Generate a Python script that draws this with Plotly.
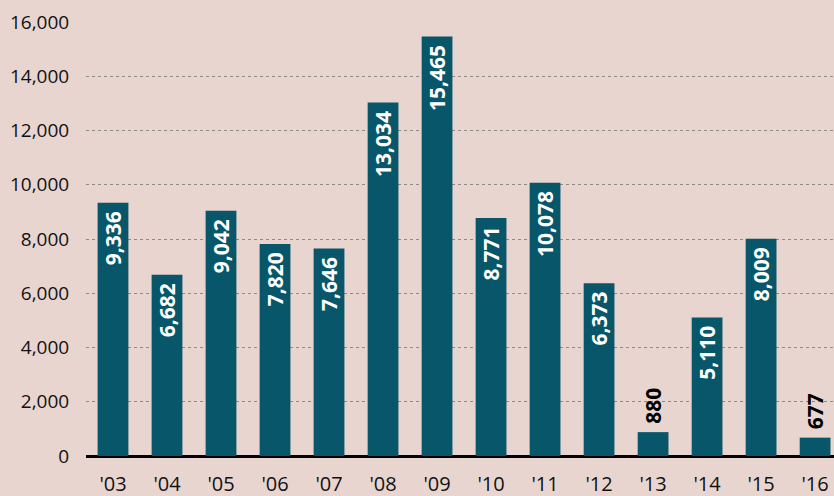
import plotly.graph_objects as go

years = ["'03", "'04", "'05", "'06", "'07", "'08", "'09", "'10", "'11", "'12", "'13", "'14", "'15", "'16"]
values = [9336, 6682, 9042, 7820, 7646, 13034, 15465, 8771, 10078, 6373, 880, 5110, 8009, 677]
y_ticks = [0, 2000, 4000, 6000, 8000, 10000, 12000, 14000, 16000]
y_tick_labels = ["0", "2,000", "4,000", "6,000", "8,000", "10,000", "12,000", "14,000", "16,000"]

BG = "#e8d5cf"
BAR = "#08566a"
FONT = "Open Sans"
NB = "\u00a0"

positions = ["outside" if v < 2000 else "inside" for v in values]
labels = [(NB + f"{v:,}") if p == "outside" else (f"{v:,}" + NB) for v, p in zip(values, positions)]

fig = go.Figure()
fig.add_trace(go.Bar(
    x=years, y=values, width=0.57,
    marker=dict(color=BAR, line=dict(width=0)),
    text=labels, textposition=positions, textangle=-90,
    insidetextanchor="end", constraintext="none", cliponaxis=False,
    insidetextfont=dict(family=FONT, size=21, color="white", weight="bold"),
    outsidetextfont=dict(family=FONT, size=21, color="black", weight="bold"),
    hoverinfo="skip",
))

fig.update_layout(
    width=834, height=496,
    margin=dict(l=86, r=0, t=22, b=40),
    paper_bgcolor=BG, plot_bgcolor=BG,
    showlegend=False,
    bargap=0.43,
    font=dict(family=FONT, size=19, color="#111"),
    xaxis=dict(
        type="category", range=[-0.5, 13.35],
        showgrid=False, showline=False, zeroline=False,
        ticks="outside", ticklen=10, tickcolor="rgba(0,0,0,0)",
        tickfont=dict(family=FONT, size=20, color="#111"),
        fixedrange=True,
    ),
    yaxis=dict(
        range=[0, 16000], tickvals=y_ticks, ticktext=y_tick_labels,
        showgrid=True, gridcolor="#8f8a88", griddash="3px,3px", gridwidth=1,
        zeroline=True, zerolinecolor="black", zerolinewidth=3,
        showline=False,
        ticks="outside", ticklen=12, tickcolor="rgba(0,0,0,0)",
        tickfont=dict(family=FONT, size=19, color="#111"),
        fixedrange=True,
    ),
)

fig.write_html("out.html")
